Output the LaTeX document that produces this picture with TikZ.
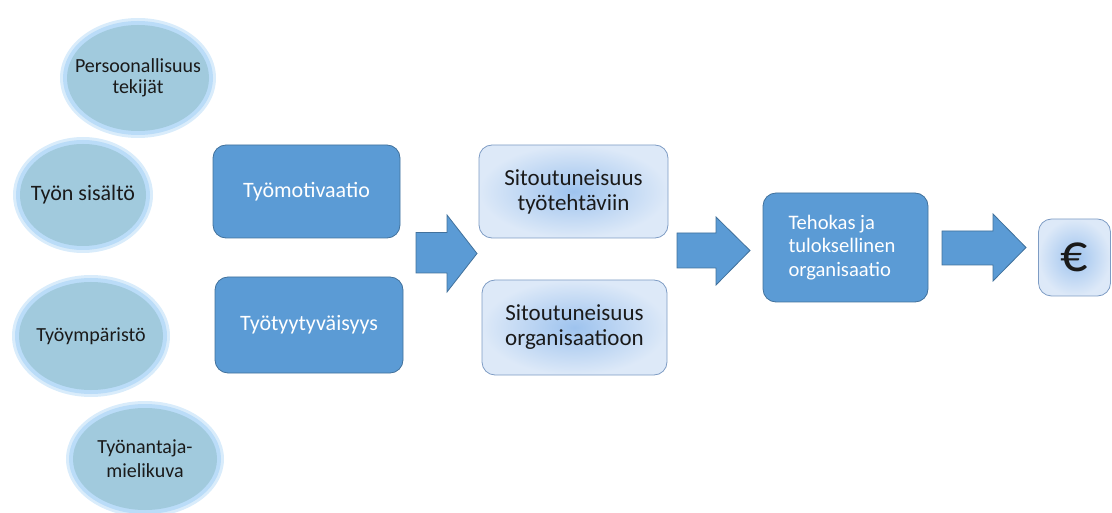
\documentclass[tikz,border=0pt]{standalone}
\usepackage{fontspec}
\setmainfont{Carlito}
\usetikzlibrary{shapes.geometric,shadings}
\definecolor{boxblue}{HTML}{5B9BD5}
\definecolor{boxedge}{HTML}{41719C}
\definecolor{ellfill}{HTML}{A1CADD}
\definecolor{glow}{HTML}{BADCF8}
\definecolor{lightin}{HTML}{9EC3EE}
\definecolor{lightout}{HTML}{DDE9F8}
\definecolor{lightedge}{HTML}{7E9CC4}
\definecolor{txt}{HTML}{1A1A1A}
\tikzset{
  oval/.style={ellipse, fill=ellfill, inner sep=0pt},
  ovaltext/.style={text=txt, align=center, inner sep=0pt},
  darkbox/.style={rounded corners=13pt, fill=boxblue, draw=boxedge, line width=0.8pt,
    text=white, inner sep=0pt},
  lightbox/.style={rounded corners=13pt, inner color=lightin, outer color=lightout,
    draw=lightedge, line width=0.8pt, text=txt, align=center, inner sep=0pt},
  blockarrow/.style={fill=boxblue, draw=boxedge, line width=0.8pt, line join=miter}
}
\begin{document}
\begin{tikzpicture}[x=1pt,y=-1pt]
\useasboundingbox (0,0) rectangle (1112,513);
% glow behind ellipses
\foreach \cx/\cy/\rx/\ry in {138/78/71/53, 83/195/63/51, 91/336/72/54, 145/459/72/51}{
  \fill[glow!55] (\cx,\cy) ellipse ({\rx+7} and {\ry+7});
  \fill[glow] (\cx,\cy) ellipse ({\rx+4} and {\ry+4});
}
\node[oval, minimum width=142pt, minimum height=106pt] (e1) at (138,78) {};
\node[oval, minimum width=126pt, minimum height=102pt] (e2) at (83,195) {};
\node[oval, minimum width=144pt, minimum height=108pt] (e3) at (91,336) {};
\node[oval, minimum width=144pt, minimum height=102pt] (e4) at (145,459) {};
\node[ovaltext, font=\fontsize{20}{21}\selectfont] (t1) at (e1) {Persoonallisuus\\tekijät};
\node[ovaltext, font=\fontsize{22}{24}\selectfont] (t2) at (e2) {Työn sisältö};
\node[ovaltext, font=\fontsize{20}{22}\selectfont] (t3) at (e3) {Työympäristö};
\node[ovaltext, font=\fontsize{20}{24}\selectfont] (t4) at (e4) {Työnantaja-\\mielikuva};
% dark boxes
\node[darkbox, minimum width=187pt, minimum height=93pt, font=\fontsize{22}{24}\selectfont] (m) at (306.5,191.5) {Työmotivaatio};
\node[darkbox, minimum width=188pt, minimum height=96pt, font=\fontsize{22}{24}\selectfont] (t) at (309,325) {Työtyytyväisyys};
% light boxes
\node[lightbox, minimum width=189pt, minimum height=93pt, font=\fontsize{23}{25}\selectfont] (s1) at (573.5,191.5) {Sitoutuneisuus\\työtehtäviin};
\node[lightbox, minimum width=185pt, minimum height=95pt, font=\fontsize{23}{25}\selectfont] (s2) at (574.5,327.5) {Sitoutuneisuus\\organisaatioon};
\node[darkbox, minimum width=165pt, minimum height=109pt, font=\fontsize{20.6}{23.5}\selectfont] (org) at (845.5,247.5) {\parbox{114pt}{\raggedright Tehokas ja\\tuloksellinen\\organisaatio}};
\node[lightbox, minimum width=72pt, minimum height=77pt, font=\fontsize{54}{54}\selectfont] (eur) at (1074.5,257.5) {€};
% block arrows
\draw[blockarrow] (416,232.5) -- (447,232.5) -- (447,215) -- (477,253.5) -- (447,292) -- (447,273) -- (416,273) -- cycle;
\draw[blockarrow] (677,233) -- (716,233) -- (716,217) -- (750,250.5) -- (716,285) -- (716,268) -- (677,268) -- cycle;
\draw[blockarrow] (942,231) -- (993,231) -- (993,214) -- (1026,247.5) -- (993,281) -- (993,265) -- (942,265) -- cycle;
\end{tikzpicture}
\end{document}
